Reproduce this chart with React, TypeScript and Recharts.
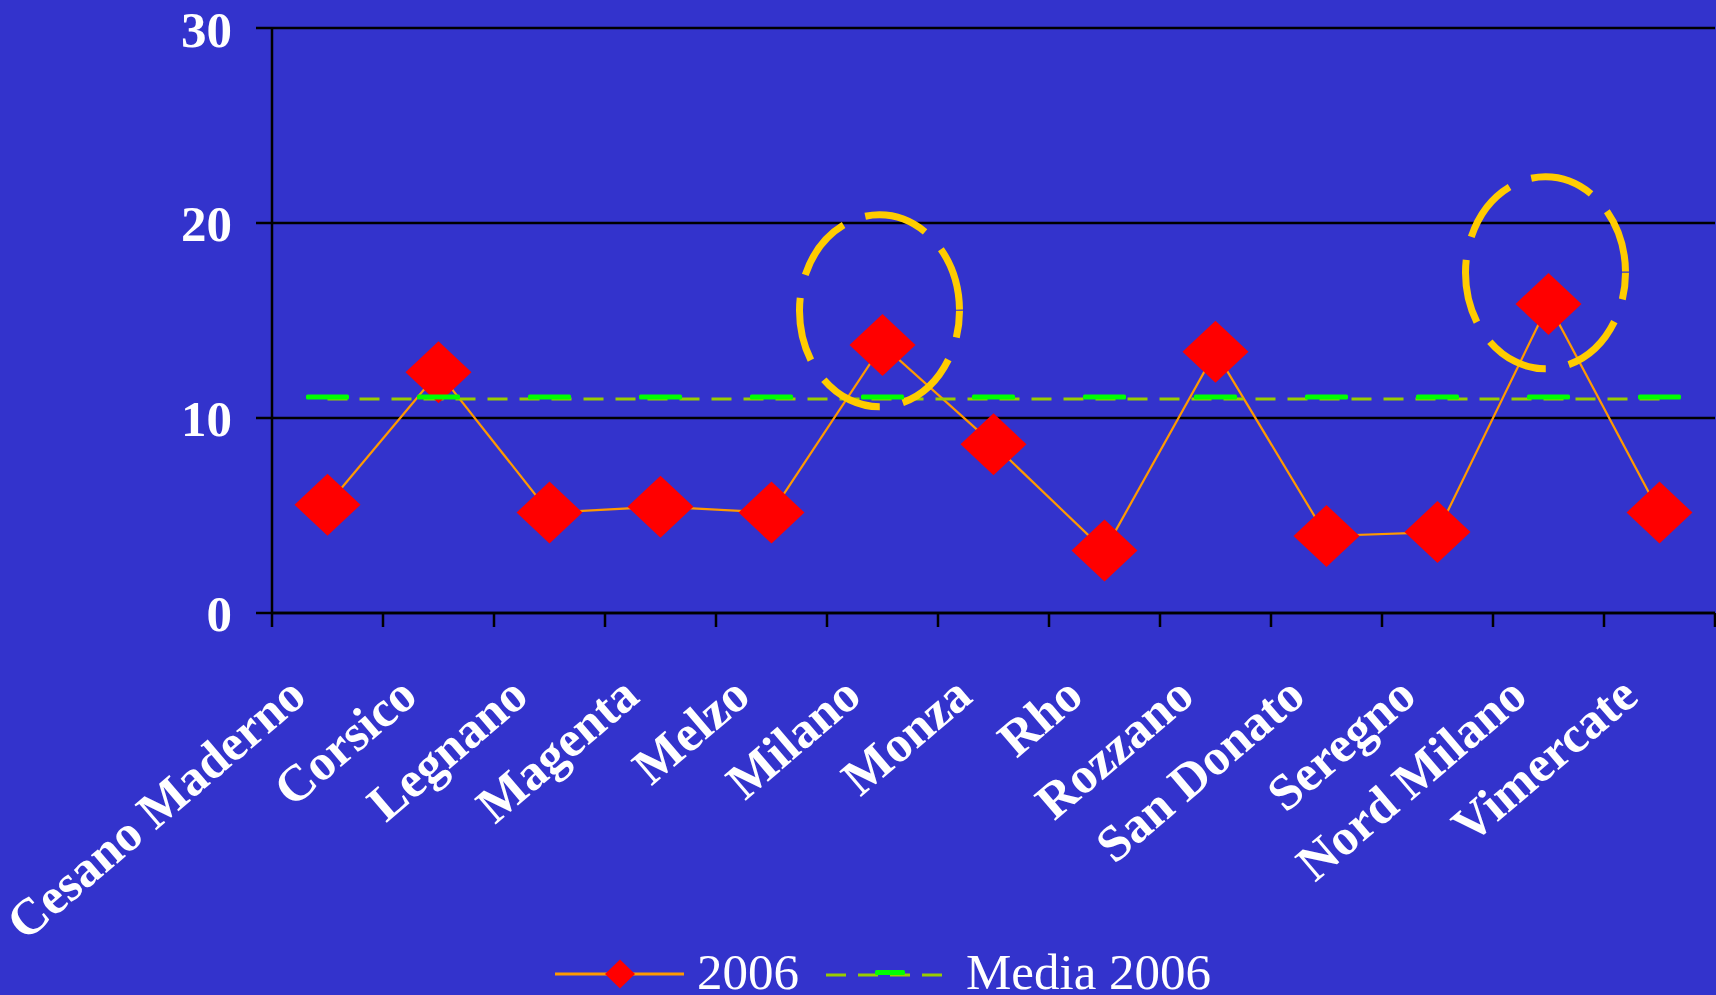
import React from 'react';
import { LineChart, Line, XAxis, YAxis, CartesianGrid, Legend, ReferenceDot } from 'recharts';

const cities = ['Cesano Maderno', 'Corsico', 'Legnano', 'Magenta', 'Melzo', 'Milano', 'Monza', 'Rho', 'Rozzano', 'San Donato', 'Seregno', 'Nord Milano', 'Vimercate'];
const values2006 = [5.55, 12.35, 5.15, 5.45, 5.15, 13.75, 8.65, 3.2, 13.4, 3.95, 4.15, 15.85, 5.15];
const media2006 = [10.97, 10.97, 10.97, 10.97, 10.97, 10.97, 10.97, 10.97, 10.97, 10.97, 10.97, 10.97, 10.97];
const yTicks = [0, 10, 20, 30];
const highlightCities = ['Milano', 'Nord Milano'];
const highlightY = [15.5, 17.45];
const legendLabels = ['2006', 'Media 2006'];

const data = cities.map((c, i) => ({ city: c, v2006: values2006[i], media: media2006[i] }));

const W = 1716;
const H = 995;
const PLOT_LEFT = 272;
const PLOT_RIGHT = 1715;
const PLOT_TOP = 28;
const PLOT_BOTTOM = 613;
const BAND = (PLOT_RIGHT - PLOT_LEFT) / cities.length;
const FONT = '"Liberation Serif", "Times New Roman", serif';
const BG = '#3333CC';
const LEG_TOP = 938;

const XTick = (props: any) => {
  const { x, payload, index } = props;
  const ax = x - 19;
  const ay = PLOT_BOTTOM + 87;
  return (
    <g>
      <line x1={x - BAND / 2} x2={x - BAND / 2} y1={PLOT_BOTTOM} y2={PLOT_BOTTOM + 14} stroke="#000" strokeWidth={2.5} />
      {index === cities.length - 1 && (
        <line x1={x + BAND / 2} x2={x + BAND / 2} y1={PLOT_BOTTOM} y2={PLOT_BOTTOM + 14} stroke="#000" strokeWidth={2.5} />
      )}
      <text
        x={ax}
        y={ay}
        transform={`rotate(-40.5 ${ax} ${ay})`}
        textAnchor="end"
        fill="#fff"
        fontSize={51}
        fontWeight="bold"
        fontFamily={FONT}
      >
        {payload.value}
      </text>
    </g>
  );
};

const renderDiamond = (p: any) => {
  const { cx, cy, index } = p;
  if (cx == null || cy == null) return <g key={`d-${index}`} />;
  return (
    <polygon
      key={`d-${index}`}
      points={`${cx},${cy - 31} ${cx + 33},${cy} ${cx},${cy + 31} ${cx - 33},${cy}`}
      fill="#FF0000"
    />
  );
};

const renderDash = (p: any) => {
  const { cx, cy, index } = p;
  if (cx == null || cy == null) return <g key={`m-${index}`} />;
  return <rect key={`m-${index}`} x={cx - 21.5} y={cy - 4.5} width={43} height={5} rx={1.5} fill="#00FF00" />;
};

const HighlightEllipse = (props: any) => {
  const { cx, cy } = props;
  if (cx == null || cy == null) return <g />;
  return (
    <ellipse
      cx={cx - 3}
      cy={cy}
      rx={80}
      ry={96}
      fill="none"
      stroke="#FFCC00"
      strokeWidth={7}
      strokeDasharray="64 23.5"
      strokeDashoffset={37}
    />
  );
};

const LegendContent = () => (
  <svg width={W} height={57} style={{ display: 'block', overflow: 'visible' }}>
    <line x1={555} x2={684} y1={36} y2={36} stroke="#FF9900" strokeWidth={3} />
    <polygon points={`620,21.5 635,36 620,50.5 605,36`} fill="#FF0000" />
    <text x={697} y={51} fill="#fff" fontSize={51} fontFamily={FONT}>{legendLabels[0]}</text>
    <line x1={826} x2={943} y1={37} y2={37} stroke="#99CC00" strokeWidth={3} strokeDasharray="20 12" />
    <rect x={875} y={32} width={30} height={5} rx={1.5} fill="#00FF00" />
    <text x={966} y={51} fill="#fff" fontSize={51} fontFamily={FONT}>{legendLabels[1]}</text>
  </svg>
);

export default function App() {
  return (
    <div style={{ position: 'absolute', left: 0, top: 0, width: W, height: H, background: BG, overflow: 'hidden' }}>
      <LineChart
        width={W}
        height={H}
        data={data}
        margin={{ top: PLOT_TOP, right: W - PLOT_RIGHT, left: 0, bottom: 0 }}
      >
        <CartesianGrid vertical={false} stroke="#000" strokeWidth={2.5} strokeOpacity={1} />
        <XAxis
          dataKey="city"
          scale="band"
          interval={0}
          height={H - PLOT_BOTTOM}
          tickLine={false}
          axisLine={{ stroke: '#000', strokeWidth: 2.5 }}
          tick={<XTick />}
        />
        <YAxis
          domain={[0, 30]}
          ticks={yTicks}
          width={PLOT_LEFT}
          tickSize={16}
          tickMargin={24}
          tickLine={{ stroke: '#000', strokeWidth: 2.5 }}
          axisLine={{ stroke: '#000', strokeWidth: 2.5 }}
          tick={{ fill: '#fff', fontSize: 51, fontWeight: 'bold', fontFamily: FONT }}
        />
        <Legend
          layout="horizontal"
          verticalAlign="middle"
          align="center"
          wrapperStyle={{ top: LEG_TOP, left: 0, width: W, height: 57, margin: 0 }}
          content={<LegendContent />}
        />
        <Line
          type="linear"
          dataKey="v2006"
          name={legendLabels[0]}
          stroke="#FF9900"
          strokeWidth={2.2}
          dot={renderDiamond}
          activeDot={false}
          isAnimationActive={false}
        />
        <Line
          type="linear"
          dataKey="media"
          name={legendLabels[1]}
          stroke="#99CC00"
          strokeWidth={3}
          strokeDasharray="20 12"
          dot={renderDash}
          activeDot={false}
          isAnimationActive={false}
        />
        {highlightCities.map((c, i) => (
          <ReferenceDot key={c} x={c} y={highlightY[i]} r={80} shape={HighlightEllipse} ifOverflow="visible" />
        ))}
      </LineChart>
    </div>
  );
}
